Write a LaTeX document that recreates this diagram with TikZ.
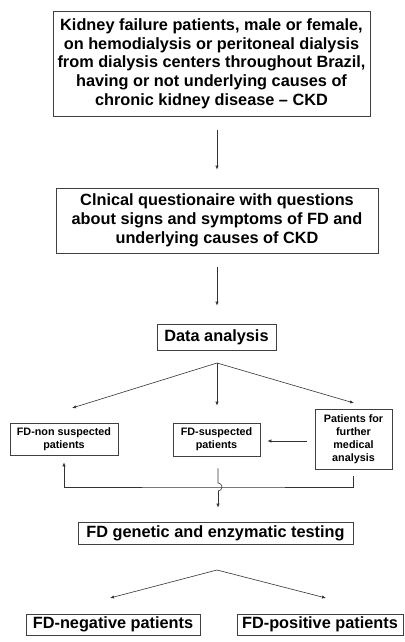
\documentclass[tikz,border=0pt]{standalone}
\usepackage{fontspec}
\setmainfont{Liberation Sans}
\usepackage{tikz}
\usetikzlibrary{arrows.meta}

\begin{document}
\begin{tikzpicture}[x=1pt,y=-1pt]

        \tikzstyle{bigbox}=[draw=black!75,line width=0.6pt,inner sep=0pt,align=center,
            font=\fontsize{16.3}{18.7}\selectfont\bfseries]
        \tikzstyle{smallbox}=[draw=black!75,line width=0.6pt,inner sep=0pt,align=center,
            font=\fontsize{10.8}{13}\selectfont\bfseries]
        \tikzstyle{flow}=[draw=black!80,line width=0.6pt,-{Latex[length=4pt,width=3.2pt]}]
        \tikzstyle{wire}=[draw=black!80,line width=0.6pt]

        \useasboundingbox[fill=white] (0,0) rectangle (404,642);

        %% Top part
        \node[bigbox,minimum width=317pt,minimum height=105pt] (patients) at (211.5,63.5)
            {Kidney failure patients, male or female,\\on hemodialysis or peritoneal dialysis\\from dialysis centers throughout Brazil,\\having or not underlying causes of\\chronic kidney disease -- CKD};
        \node[bigbox,minimum width=322pt,minimum height=65pt] (quest) at (217,220.5)
            {Clnical questionaire with questions\\about signs and symptoms of FD and\\underlying causes of CKD};
        \node[bigbox,minimum width=119pt,minimum height=26pt] (data) at (216.5,337) {Data analysis};

        \draw[flow,shorten <=14pt,shorten >=18pt] (patients.south -| 217,0) -- (quest.north -| 217,0);
        \draw[flow,shorten <=14pt,shorten >=18pt] (quest.south -| 217,0) -- (data.north -| 217,0);

        %% Three groups
        \node[smallbox,minimum width=108pt,minimum height=32pt] (nonsusp) at (64,439) {FD-non suspected\\patients};
        \node[smallbox,minimum width=87pt,minimum height=33pt] (susp) at (216.5,439.5) {FD-suspected\\patients};
        \node[smallbox,minimum width=77pt,minimum height=60pt] (further) at (353.5,439) {Patients for\\further\\medical\\analysis};

        \coordinate (split) at (217,363);
        \coordinate (tipnon) at (72,408);
        \coordinate (tipfur) at (354,403);
        \draw[flow] (split) -- (tipnon);
        \draw[flow,shorten >=17pt] (split) -- (susp.north -| split);
        \draw[flow] (split) -- (tipfur);
        \draw[flow,shorten <=8pt,shorten >=7pt] (further.west |- 0,441) -- (susp.east |- 0,441);

        %% loop back and hop
        \coordinate (hop) at (218,487);
        \draw[wire] (further.south) ++(0,7) |- (hop) -| (64,480);
        \draw[flow,shorten >=7pt] (64,487) -- (nonsusp.south);
        \draw[wire,shorten <=12pt] (susp.south -| hop) -- (218,483)
            arc[start angle=90,end angle=-90,radius=4pt];
        \node[bigbox,minimum width=275pt,minimum height=22pt] (genetic) at (215.5,533) {FD genetic and enzymatic testing};
        \draw[flow,shorten >=14pt] (218,491) -- (genetic.north -| 218,0);

        %% Results
        \node[bigbox,minimum width=174pt,minimum height=21pt] (neg) at (113,624.5) {FD-negative patients};
        \node[bigbox,minimum width=166pt,minimum height=21pt] (pos) at (320,624.5) {FD-positive patients};

        \coordinate (fork) at (217,570);
        \coordinate (tipneg) at (110,598);
        \coordinate (tippos) at (326,598);
        \draw[flow] (fork) -- (tipneg);
        \draw[flow] (fork) -- (tippos);

\end{tikzpicture}
\end{document}
